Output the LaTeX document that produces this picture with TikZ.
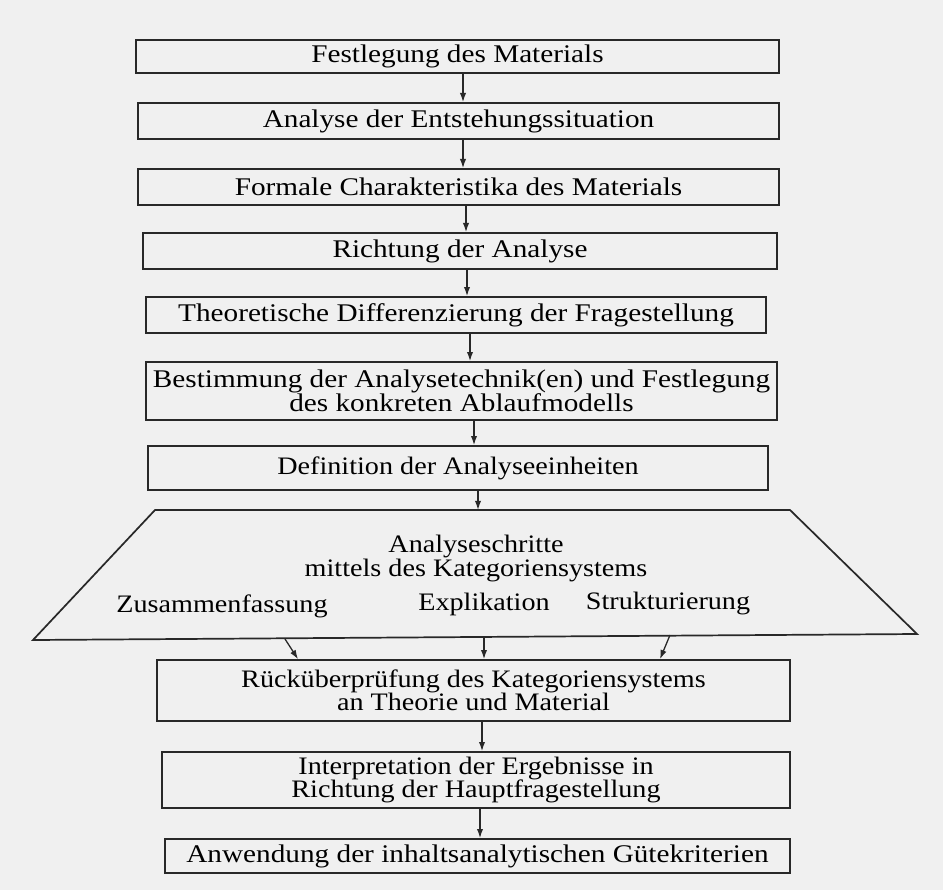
\documentclass[tikz,border=0pt]{standalone}
\usepackage{fontspec}
\setmainfont[FakeStretch=1.12]{Liberation Serif}
\newfontfamily\widefont[FakeStretch=1.15]{Liberation Serif}
\usepackage{xcolor}
\usetikzlibrary{arrows.meta}
\definecolor{paper}{RGB}{240,240,240}
\definecolor{ink}{RGB}{40,40,40}
\newcommand\pxu{0.35pt}

\begin{document}
\begin{tikzpicture}[x=0.35pt,y=-0.35pt,
    box/.style={draw=ink,line width=.6pt,align=center,inner sep=0pt,
      font=\fontsize{8.8}{8.2}\selectfont},
    widebox/.style={box,font=\widefont\fontsize{8.9}{8.3}\selectfont},
    lbl/.style={align=center,inner sep=0pt,font=\fontsize{8.8}{8.4}\selectfont},
    arr/.style={-{Latex[length=3.2pt,width=2.2pt]},line width=.45pt,ink}]
  \useasboundingbox[fill=paper] (0,0) rectangle (943,890);
  % steps
  \node[widebox,minimum width=643*\pxu,minimum height=33*\pxu] (fest) at (457.5,56.5) {Festlegung des Materials};
  \node[widebox,minimum width=641*\pxu,minimum height=36*\pxu] (entst) at (458.5,121) {Analyse der Entstehungssituation};
  \node[widebox,minimum width=641*\pxu,minimum height=36*\pxu] (formal) at (458.5,187) {Formale Charakteristika des Materials};
  \node[widebox,minimum width=634*\pxu,minimum height=36*\pxu] (richtung) at (460,251) {Richtung der Analyse};
  \node[widebox,minimum width=620*\pxu,minimum height=36*\pxu] (theorie) at (456,315) {Theoretische Differenzierung der Fragestellung};
  \node[widebox,minimum width=631*\pxu,minimum height=58*\pxu] (technik) at (461.5,391) {Bestimmung der Analysetechnik(en) und Festlegung\\des konkreten Ablaufmodells};
  \node[box,minimum width=620*\pxu,minimum height=44*\pxu] (einheit) at (458,468) {Definition der Analyseeinheiten};
  % trapezoid
  \coordinate (tl) at (155,510);
  \coordinate (tr) at (790,510);
  \coordinate (br) at (917,634);
  \coordinate (bl) at (33,640);
  \draw[ink,line width=.6pt] (tl) -- (tr) -- (br) -- (bl) -- cycle;
  \node[lbl] (schritte) at (476,558) {Analyseschritte\\mittels des Kategoriensystems};
  \node[lbl] (zus) at (222,606) {Zusammenfassung};
  \node[lbl] (expl) at (484,604) {Explikation};
  \node[lbl] (struk) at (668,603) {Strukturierung};
  \node[box,minimum width=633*\pxu,minimum height=61*\pxu] (rueck) at (473.5,690.5) {Rücküberprüfung des Kategoriensystems\\an Theorie und Material};
  \node[box,minimum width=628*\pxu,minimum height=56*\pxu] (interp) at (476,780) {Interpretation der Ergebnisse in\\Richtung der Hauptfragestellung};
  \node[widebox,minimum width=625*\pxu,minimum height=34*\pxu] (guete) at (477.5,856) {Anwendung der inhaltsanalytischen Gütekriterien};
  % arrows
  \foreach \a/\b/\x in {fest/entst/463,entst/formal/463,formal/richtung/466,
      richtung/theorie/467,theorie/technik/470,technik/einheit/474,rueck/interp/482,interp/guete/480}
    \draw[arr] (\a.south -| \x,0) -- (\b.north -| \x,0);
  \draw[arr] (einheit.south -| 478,0) -- (tl -| 478,0);
  \coordinate (z1) at (285,639);
  \coordinate (z2) at (484,637);
  \coordinate (z3) at (670,635);
  \draw[arr] (z1) -- (rueck.north -| 298,0);
  \draw[arr] (z2) -- (rueck.north -| z2);
  \draw[arr] (z3) -- (rueck.north -| 660,0);
\end{tikzpicture}
\end{document}
